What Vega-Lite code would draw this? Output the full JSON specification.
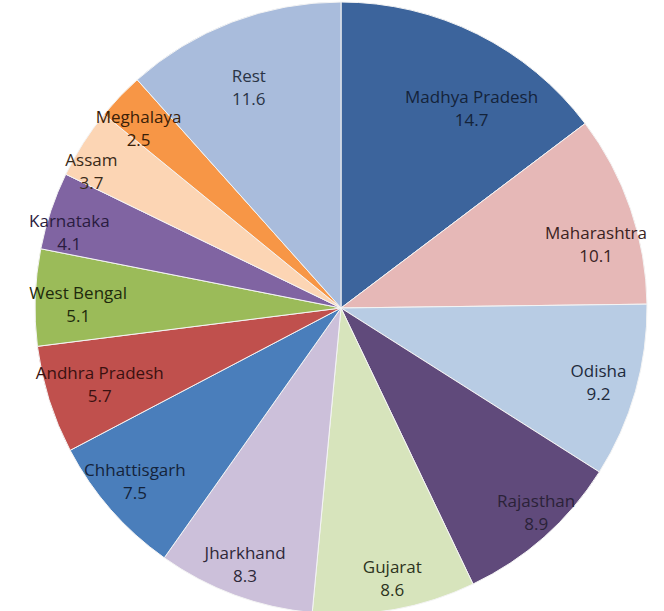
{
  "$schema": "https://vega.github.io/schema/vega-lite/v6.json",
  "width": 682,
  "height": 616,
  "autosize": "none",
  "padding": 0,
  "background": "white",
  "data": {"values": [
    {"state": "Madhya Pradesh", "share": 14.7, "ord": 1},
    {"state": "Maharashtra", "share": 10.1, "ord": 2},
    {"state": "Odisha", "share": 9.2, "ord": 3},
    {"state": "Rajasthan", "share": 8.9, "ord": 4},
    {"state": "Gujarat", "share": 8.6, "ord": 5},
    {"state": "Jharkhand", "share": 8.3, "ord": 6},
    {"state": "Chhattisgarh", "share": 7.5, "ord": 7},
    {"state": "Andhra Pradesh", "share": 5.7, "ord": 8},
    {"state": "West Bengal", "share": 5.1, "ord": 9},
    {"state": "Karnataka", "share": 4.1, "ord": 10},
    {"state": "Assam", "share": 3.7, "ord": 11},
    {"state": "Meghalaya", "share": 2.5, "ord": 12},
    {"state": "Rest", "share": 11.6, "ord": 13}
  ]},
  "transform": [
    {"stack": "share", "sort": [{"field": "ord", "order": "ascending"}], "as": ["s0", "s1"]},
    {"calculate": "(datum.s0 + datum.s1) / 2", "as": "mid"},
    {"calculate": "datum.state + '\\n' + format(datum.share, '.1f')", "as": "label"}
  ],
  "encoding": {
    "theta": {"field": "mid", "type": "quantitative", "scale": {"domain": [0, 100]}},
    "text": {"field": "label"}
  },
  "layer": [
    {
      "mark": {"type": "arc", "outerRadius": 306, "stroke": "#f4f4f4", "strokeWidth": 1},
      "encoding": {
        "theta": {"field": "s0", "type": "quantitative", "scale": {"domain": [0, 100]}},
        "theta2": {"field": "s1"},
        "text": null,
        "color": {
          "field": "state", "type": "nominal", "legend": null,
          "scale": {
            "domain": ["Madhya Pradesh","Maharashtra","Odisha","Rajasthan","Gujarat","Jharkhand","Chhattisgarh","Andhra Pradesh","West Bengal","Karnataka","Assam","Meghalaya","Rest"],
            "range": ["#3C649C","#E6B8B7","#B8CCE4","#604A7B","#D7E4BC","#CCC0DA","#4A7EBB","#C0504D","#9BBB59","#8064A2","#FCD5B4","#F79646","#A9BCDC"]
          }
        }
      }
    },
    {"transform": [{"filter": "datum.state === 'Madhya Pradesh'"}],
     "mark": {"type": "text", "radius": 228, "dx": 29, "dy": -6, "font": "Open Sans", "fontSize": 17, "lineBreak": "\n", "lineHeight": 23, "baseline": "middle", "color": "#14233a"}},
    {"transform": [{"filter": "datum.state === 'Rest'"}],
     "mark": {"type": "text", "radius": 228, "dx": -11, "dy": -18, "font": "Open Sans", "fontSize": 17, "lineBreak": "\n", "lineHeight": 23, "baseline": "middle", "color": "#2a3446"}},
    {"transform": [{"filter": "datum.state === 'Maharashtra'"}],
     "mark": {"type": "text", "radius": 278, "dx": -8, "dy": 16, "font": "Open Sans", "fontSize": 17, "lineBreak": "\n", "lineHeight": 23, "baseline": "middle", "color": "#3a2222"}},
    {"transform": [{"filter": "datum.state === 'Odisha'"}],
     "mark": {"type": "text", "radius": 276, "dx": -8, "dy": -11, "font": "Open Sans", "fontSize": 17, "lineBreak": "\n", "lineHeight": 23, "baseline": "middle", "color": "#1e2a3c"}},
    {"transform": [{"filter": "datum.state === 'Rajasthan'"}],
     "mark": {"type": "text", "radius": 276, "dx": 12, "dy": -12, "font": "Open Sans", "fontSize": 17, "lineBreak": "\n", "lineHeight": 23, "baseline": "middle", "color": "#2b2238"}},
    {"transform": [{"filter": "datum.state === 'Gujarat'"}],
     "mark": {"type": "text", "radius": 276, "dx": 3, "dy": -12, "font": "Open Sans", "fontSize": 17, "lineBreak": "\n", "lineHeight": 23, "baseline": "middle", "color": "#2c3320"}},
    {"transform": [{"filter": "datum.state === 'Jharkhand'"}],
     "mark": {"type": "text", "radius": 276, "dx": 0, "dy": -13, "font": "Open Sans", "fontSize": 17, "lineBreak": "\n", "lineHeight": 23, "baseline": "middle", "color": "#2e2838"}},
    {"transform": [{"filter": "datum.state === 'Chhattisgarh'"}],
     "mark": {"type": "text", "radius": 278, "dx": 3, "dy": -20, "font": "Open Sans", "fontSize": 17, "lineBreak": "\n", "lineHeight": 23, "baseline": "middle", "color": "#14233a"}},
    {"transform": [{"filter": "datum.state === 'Andhra Pradesh'"}],
     "mark": {"type": "text", "radius": 276, "dx": 22, "dy": -17, "font": "Open Sans", "fontSize": 17, "lineBreak": "\n", "lineHeight": 23, "baseline": "middle", "color": "#3a1010"}},
    {"transform": [{"filter": "datum.state === 'West Bengal'"}],
     "mark": {"type": "text", "radius": 276, "dx": 13, "dy": -4, "font": "Open Sans", "fontSize": 17, "lineBreak": "\n", "lineHeight": 23, "baseline": "middle", "color": "#1e2a0c"}},
    {"transform": [{"filter": "datum.state === 'Karnataka'"}],
     "mark": {"type": "text", "radius": 276, "dx": -10, "dy": 2, "font": "Open Sans", "fontSize": 17, "lineBreak": "\n", "lineHeight": 23, "baseline": "middle", "color": "#2a1c40"}},
    {"transform": [{"filter": "datum.state === 'Assam'"}],
     "mark": {"type": "text", "radius": 276, "dx": -17, "dy": 2, "font": "Open Sans", "fontSize": 17, "lineBreak": "\n", "lineHeight": 23, "baseline": "middle", "color": "#3a2a18"}},
    {"transform": [{"filter": "datum.state === 'Meghalaya'"}],
     "mark": {"type": "text", "radius": 276, "dx": -3, "dy": 1, "font": "Open Sans", "fontSize": 17, "lineBreak": "\n", "lineHeight": 23, "baseline": "middle", "color": "#3a2008"}}
  ],
  "config": {"view": {"stroke": null}}
}
